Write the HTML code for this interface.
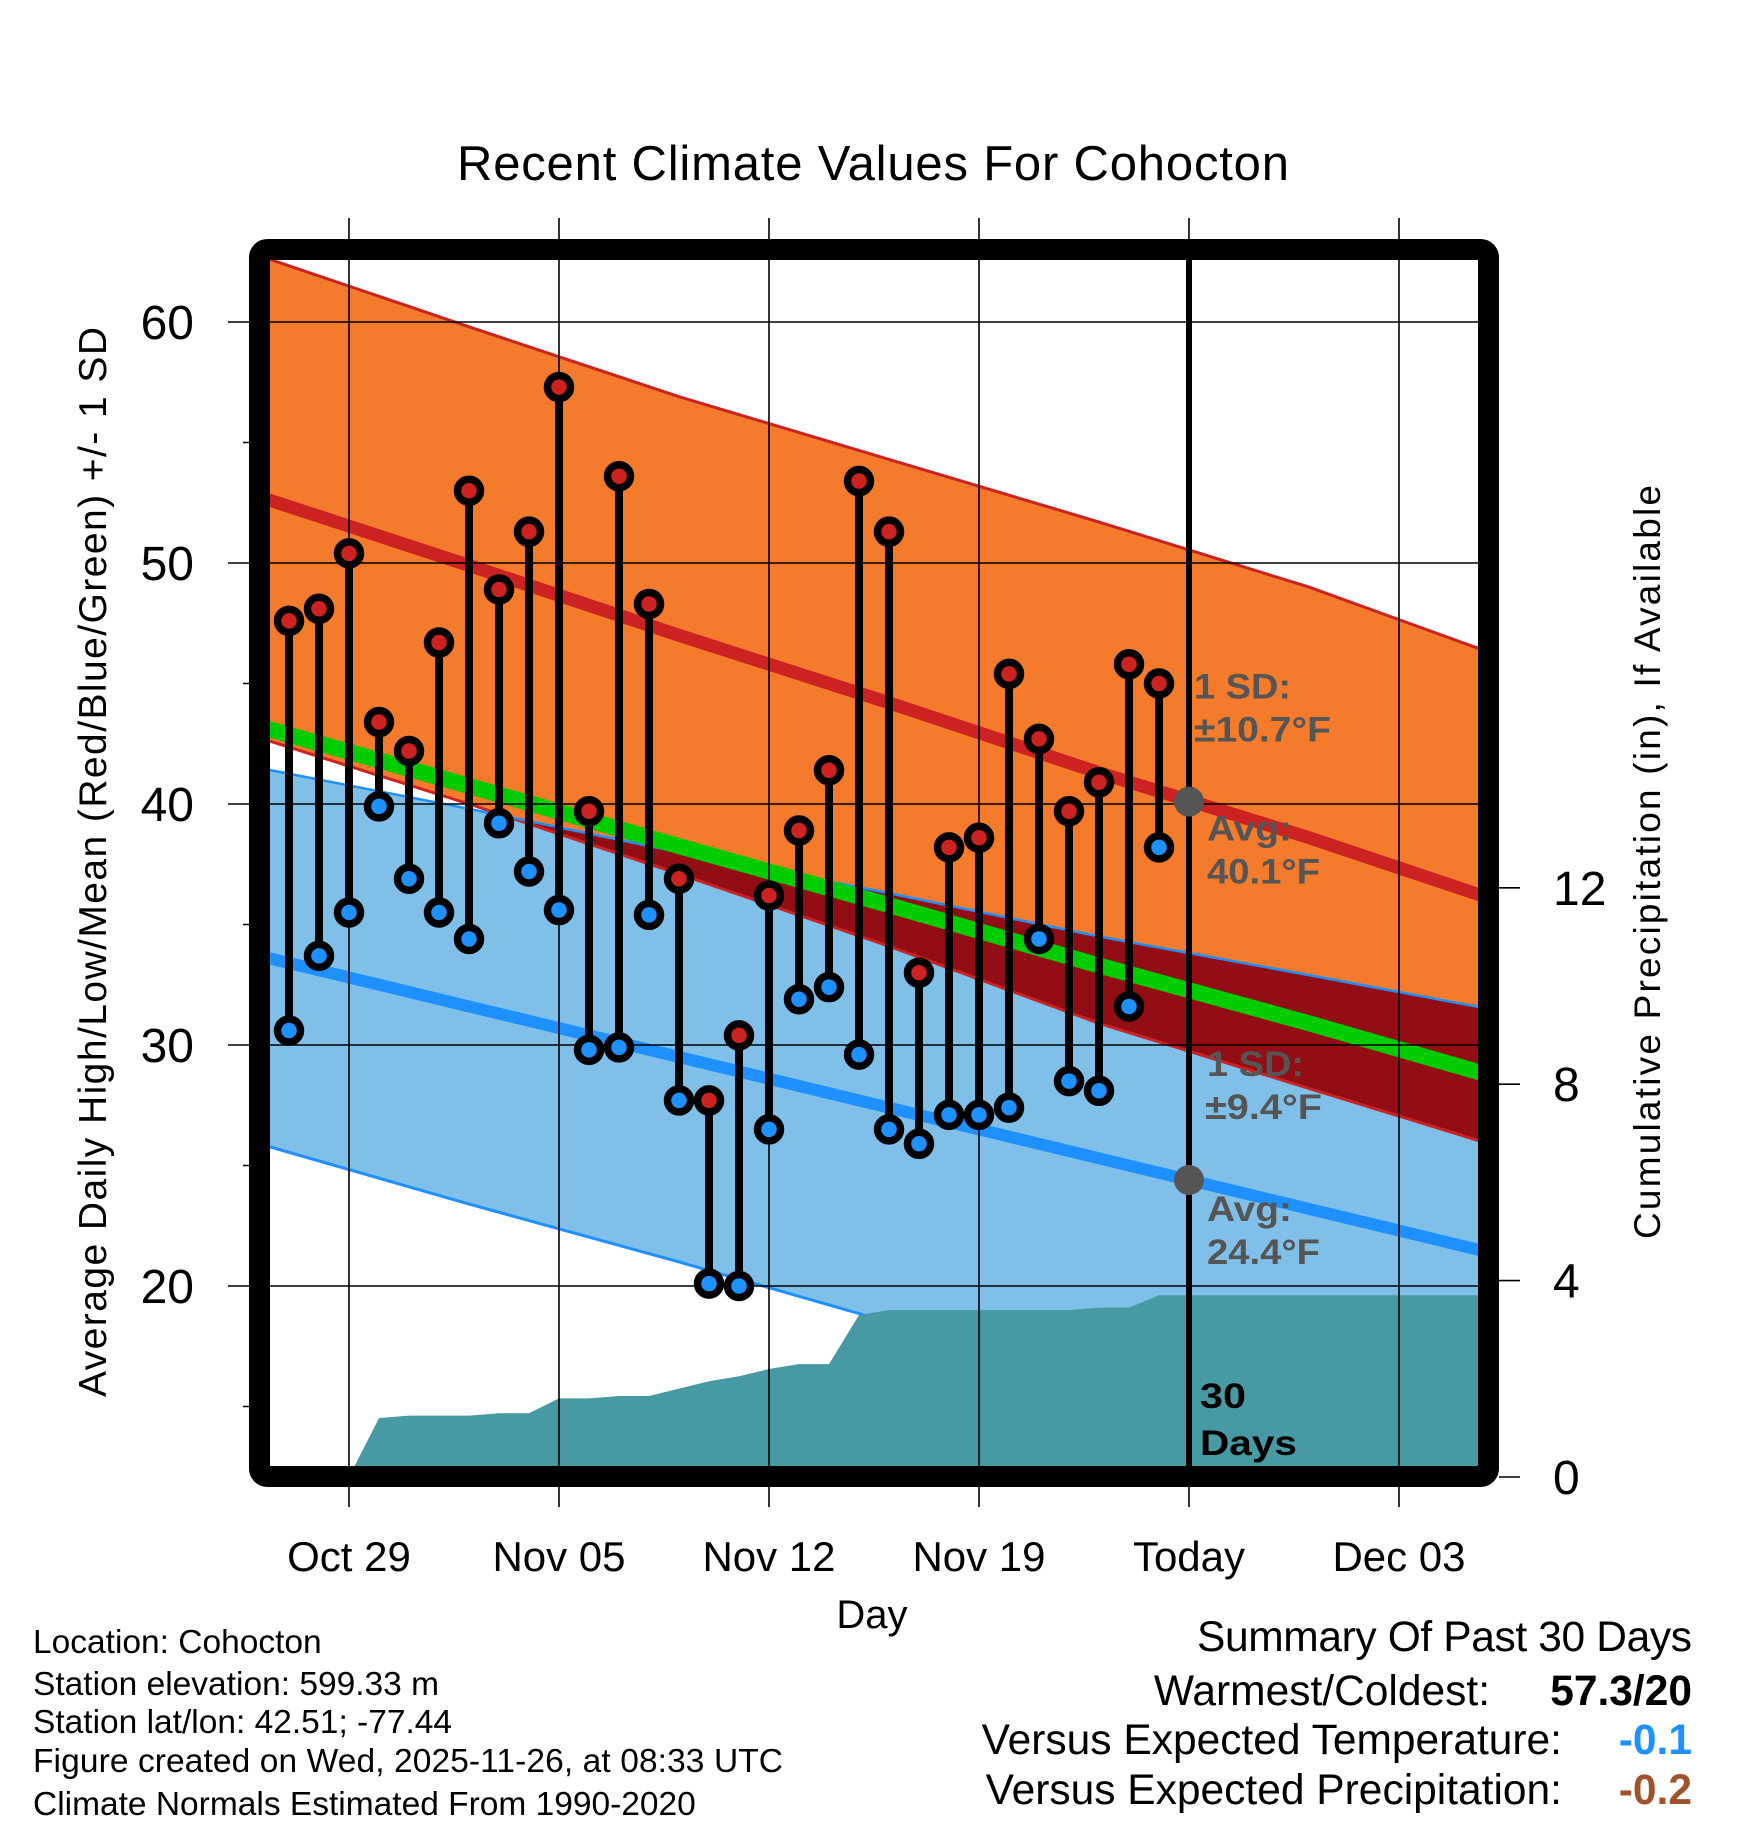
<!DOCTYPE html>
<html><head><meta charset="utf-8"><style>
html,body{margin:0;padding:0;background:#fff;}
svg{display:block;font-family:"Liberation Sans",Arial,sans-serif;}
</style></head><body>
<svg id="chart" width="1748" height="1828" viewBox="0 0 1748 1828" xmlns="http://www.w3.org/2000/svg">
<defs><clipPath id="plotclip"><rect x="270" y="260" width="1208" height="1206"/></clipPath></defs>
<g id="bg" clip-path="url(#plotclip)"></g>
<g id="grid"></g>
<g id="marks" clip-path="url(#plotclip)"></g>
<rect x="259.5" y="249.5" width="1229" height="1227" rx="8" fill="none" stroke="#000" stroke-width="21"/>
<g id="axes"></g>
<text x="873" y="180" font-size="49" text-anchor="middle" textLength="832">Recent Climate Values For Cohocton</text>
<text x="872" y="1628" font-size="40" text-anchor="middle">Day</text>
<text transform="translate(106,862) rotate(-90)" font-size="39" text-anchor="middle" textLength="1070">Average Daily High/Low/Mean (Red/Blue/Green) +/- 1 SD</text>
<text transform="translate(1660,862) rotate(-90)" font-size="37" text-anchor="middle" textLength="754">Cumulative Precipitation (in), If Available</text>
<g fill="#000" font-size="33.5">
<text x="33" y="1653">Location: Cohocton</text>
<text x="33" y="1695">Station elevation: 599.33 m</text>
<text x="33" y="1733">Station lat/lon: 42.51; -77.44</text>
<text x="33" y="1772" textLength="750">Figure created on Wed, 2025-11-26, at 08:33 UTC</text>
<text x="33" y="1815">Climate Normals Estimated From 1990-2020</text>
</g>
<g font-size="42.5">
<text x="1692" y="1651" text-anchor="end" textLength="495">Summary Of Past 30 Days</text>
<text x="1490" y="1705" text-anchor="end">Warmest/Coldest:</text>
<text x="1692" y="1705" text-anchor="end" font-weight="bold">57.3/20</text>
<text x="1562" y="1754" text-anchor="end">Versus Expected Temperature:</text>
<text x="1692" y="1754" text-anchor="end" font-weight="bold" fill="#1e90ff">-0.1</text>
<text x="1562" y="1804" text-anchor="end">Versus Expected Precipitation:</text>
<text x="1692" y="1804" text-anchor="end" font-weight="bold" fill="#a0522d">-0.2</text>
</g>
</svg>
<script>
// ---- data ----
const dayLabels = ["Oct 27","Oct 28","Oct 29","Oct 30","Oct 31","Nov 01","Nov 02","Nov 03","Nov 04","Nov 05","Nov 06","Nov 07","Nov 08","Nov 09","Nov 10","Nov 11","Nov 12","Nov 13","Nov 14","Nov 15","Nov 16","Nov 17","Nov 18","Nov 19","Nov 20","Nov 21","Nov 22","Nov 23","Nov 24","Nov 25"];
const highs = [47.6,48.1,50.4,43.4,42.2,46.7,53.0,48.9,51.3,57.3,39.7,53.6,48.3,36.9,27.7,30.4,36.2,38.9,41.4,53.4,51.3,33.0,38.2,38.6,45.4,42.7,39.7,40.9,45.8,45.0];
const lows  = [30.6,33.7,35.5,39.9,36.9,35.5,34.4,39.2,37.2,35.6,29.8,29.9,35.4,27.7,20.1,20.0,26.5,31.9,32.4,29.6,26.5,25.9,27.1,27.1,27.4,34.4,28.5,28.1,31.6,38.2];
const precip = [0,0,0,1.2,1.25,1.25,1.25,1.3,1.3,1.6,1.6,1.65,1.65,1.8,1.95,2.05,2.2,2.3,2.3,3.3,3.4,3.4,3.4,3.4,3.4,3.4,3.4,3.45,3.45,3.7];
// normals at day offsets (days from Oct 27)
const normDays = [-1,6,13,20,27,34,40];
const normHigh = [52.75,49.9,47.0,44.2,41.3,38.6,36.1];
const normHighSD = [10.0,9.9,9.9,10.1,10.4,10.4,10.2];
const normLow = [33.7,31.6,29.5,27.4,25.3,23.2,21.4];
const normLowSD = [7.8,8.2,8.5,8.9,9.2,9.7,10.1];
const xTickLabels = ["Oct 29","Nov 05","Nov 12","Nov 19","Today","Dec 03"];
const xTickDays = [2,9,16,23,30,37];
const yTicks = [20,30,40,50,60];
const yMinor = [15,25,35,45,55];
const pTicks = [0,4,8,12];
const todayDay = 30;
const todayHigh = 40.1, todayHighSD = 10.7, todayLow = 24.4, todayLowSD = 9.4;

// ---- scales ----
const X = d => 289 + d*30;
const Y = v => 563 - (v-50)*24.1;
const P = p => 1477 - p*49.1;
const NS='http://www.w3.org/2000/svg';
function mk(tag, parent, attrs){const e=document.createElementNS(NS,tag);for(const k in attrs)e.setAttribute(k,attrs[k]);parent.appendChild(e);return e;}
const bg=document.getElementById('bg'), grid=document.getElementById('grid'), marks=document.getElementById('marks'), axes=document.getElementById('axes');

function pts(arr){return arr.map((v,i)=>X(normDays[i]).toFixed(1)+','+Y(v).toFixed(1)).join(' ');}
const hiU=normHigh.map((v,i)=>v+normHighSD[i]), hiL=normHigh.map((v,i)=>v-normHighSD[i]);
const loU=normLow.map((v,i)=>v+normLowSD[i]), loL=normLow.map((v,i)=>v-normLowSD[i]);
const mean=normHigh.map((v,i)=>(v+normLow[i])/2);
const band=(u,l)=>pts(u)+' '+normDays.map((d,i)=>X(d).toFixed(1)+','+Y(l[i]).toFixed(1)).reverse().join(' ');

const ob=mk('polygon',bg,{points:band(hiU,hiL),fill:'#f47a2c'});


const cp=mk('clipPath',bg,{id:'hiclip'});
mk('polygon',cp,{points:band(hiU,hiL)});
const lb=mk('polygon',bg,{points:band(loU,loL),fill:'#80c0e8'});


const ov=mk('polygon',bg,{points:band(loU,loL),fill:'#930d14','clip-path':'url(#hiclip)'});


[[hiU,'#cc2222',3,'high-upper-line'],[hiL,'#cc2222',3,'high-lower-line'],[loU,'#1e90ff',2.5,'low-upper-line'],[loL,'#1e90ff',3,'low-lower-line'],[mean,'#00cc00',16,'mean-line'],[normHigh,'#cc2222',13,'avg-high-line'],[normLow,'#1e90ff',12,'avg-low-line']].forEach(a=>{
  const l=mk('polyline',bg,{points:pts(a[0]),fill:'none',stroke:a[1],'stroke-width':a[2]});
  
  
});
// precipitation area
let pp=[];
precip.forEach((p,i)=>pp.push(X(i).toFixed(1)+','+P(p).toFixed(1)));
pp.push('1490,'+P(precip[precip.length-1]).toFixed(1));
pp.push('1490,1480'); pp.push(X(0)+',1480');
const pa=mk('polygon',bg,{points:pp.join(' '),fill:'#4799a3'});



// grid
yTicks.forEach(v=>{
  const l=mk('line',grid,{x1:228,x2:1478,y1:Y(v),y2:Y(v),stroke:'#000','stroke-width':1.6});
  
  
  const t=mk('text',axes,{x:194,y:Y(v)+17,'font-size':48,'text-anchor':'end'});
  t.textContent=v;
  
  
});
yMinor.forEach(v=>{
  const l=mk('line',grid,{x1:243,x2:252,y1:Y(v),y2:Y(v),stroke:'#000','stroke-width':1.5});
  
  
});
xTickDays.forEach((d,i)=>{
  const l=mk('line',grid,{x1:X(d),x2:X(d),y1:218,y2:1507,stroke:'#000','stroke-width':1.6});
  
  
  const t=mk('text',axes,{x:X(d),y:1571,'font-size':42,'text-anchor':'middle'});
  t.textContent=xTickLabels[i];
  
  
});
pTicks.forEach(p=>{
  const l=mk('line',axes,{x1:1499,x2:1520,y1:P(p),y2:P(p),stroke:'#000','stroke-width':1.6});
  
  
  const t=mk('text',axes,{x:1553,y:P(p)+17,'font-size':48});
  t.textContent=p;
  
  
});
// today line
const tl=mk('line',marks,{x1:X(todayDay),x2:X(todayDay),y1:255,y2:1470,stroke:'#000','stroke-width':6});



// stems and dots
highs.forEach((h,i)=>{
  const s=mk('line',marks,{x1:X(i),x2:X(i),y1:Y(h),y2:Y(lows[i]),stroke:'#000','stroke-width':8});
  
  
});
highs.forEach((h,i)=>{
  const c=mk('circle',marks,{cx:X(i),cy:Y(h),r:11.5,fill:'#cc2222',stroke:'#000','stroke-width':7.5});
  
  
  const c2=mk('circle',marks,{cx:X(i),cy:Y(lows[i]),r:11.5,fill:'#1e90ff',stroke:'#000','stroke-width':7.5});
  
  
});
// today markers and annotations
[todayHigh,todayLow].forEach(v=>{
  const c=mk('circle',marks,{cx:X(todayDay),cy:Y(v),r:15,fill:'#555'});
  
  
});
function ann(txt,x,y,w,name,fill){
  const t=mk('text',marks,{x:x,y:y,'font-size':35,'font-weight':'bold',fill:fill||'#555',textLength:w,lengthAdjust:'spacingAndGlyphs'});
  t.textContent=txt;
  
  
}
const ax=X(todayDay);
ann('1 SD:',ax+5,Y(todayHigh)-103,97,'high-sd-label');
ann('\u00B1'+todayHighSD+'\u00B0F',ax+5,Y(todayHigh)-60,137,'high-sd-value');
ann('Avg:',ax+18,Y(todayHigh)+39,85,'high-avg-label');
ann(todayHigh+'\u00B0F',ax+18,Y(todayHigh)+82,113,'high-avg-value');
ann('1 SD:',ax+18,Y(todayLow)-104,97,'low-sd-label');
ann('\u00B1'+todayLowSD+'\u00B0F',ax+16,Y(todayLow)-61,117,'low-sd-value');
ann('Avg:',ax+18,Y(todayLow)+41,85,'low-avg-label');
ann(todayLow+'\u00B0F',ax+18,Y(todayLow)+84,113,'low-avg-value');
ann('30',ax+11,1408,46,'days-count','#000');
ann('Days',ax+11,1455,97,'days-label','#000');
</script>
</body></html>
